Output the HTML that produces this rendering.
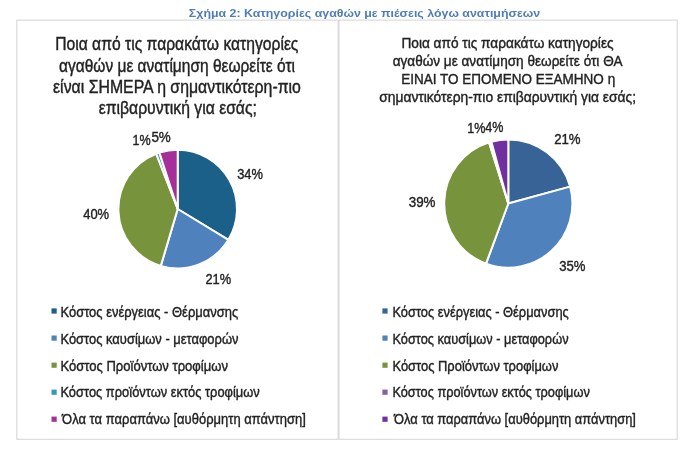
<!DOCTYPE html>
<html lang="el"><head><meta charset="utf-8"><title>Σχήμα 2</title>
<style>
html,body{margin:0;padding:0;background:#fff;}
body{filter:blur(0.4px);width:700px;height:459px;position:relative;overflow:hidden;font-family:"Liberation Sans", sans-serif;}
.t{position:absolute;white-space:nowrap;line-height:1;transform-origin:0 0;font-family:"Liberation Sans", sans-serif;-webkit-text-stroke:0.4px currentColor;}
svg{position:absolute;left:0;top:0;}
</style></head><body>
<svg width="700" height="459" viewBox="0 0 700 459">
<rect x="16.8" y="20.1" width="321.3" height="419.2" fill="#fff" stroke="#D8D8D8" stroke-width="1.1"/>
<rect x="339.0" y="20.1" width="338.2" height="419.2" fill="#fff" stroke="#D8D8D8" stroke-width="1.1"/>
<path d="M177.70,209.00 L177.70,149.70 A59.30,59.30 0 0 1 228.36,239.83 Z" fill="#1B6088" stroke="#fff" stroke-width="2.0" stroke-linejoin="round"/>
<path d="M177.70,209.00 L228.36,239.83 A59.30,59.30 0 0 1 160.80,265.84 Z" fill="#4F81BD" stroke="#fff" stroke-width="2.0" stroke-linejoin="round"/>
<path d="M177.70,209.00 L160.80,265.84 A59.30,59.30 0 0 1 156.22,153.73 Z" fill="#77933C" stroke="#fff" stroke-width="2.0" stroke-linejoin="round"/>
<path d="M177.70,209.00 L156.22,153.73 A59.30,59.30 0 0 1 159.38,152.60 Z" fill="#2F9CBA" stroke="#fff" stroke-width="2.0" stroke-linejoin="round"/>
<path d="M177.70,209.00 L159.38,152.60 A59.30,59.30 0 0 1 177.70,149.70 Z" fill="#A6309A" stroke="#fff" stroke-width="2.0" stroke-linejoin="round"/>
<path d="M508.30,203.50 L508.30,139.40 A64.10,64.10 0 0 1 570.13,186.59 Z" fill="#376397" stroke="#fff" stroke-width="2.0" stroke-linejoin="round"/>
<path d="M508.30,203.50 L570.13,186.59 A64.10,64.10 0 0 1 486.02,263.60 Z" fill="#4F81BD" stroke="#fff" stroke-width="2.0" stroke-linejoin="round"/>
<path d="M508.30,203.50 L486.02,263.60 A64.10,64.10 0 0 1 489.07,142.35 Z" fill="#77933C" stroke="#fff" stroke-width="2.0" stroke-linejoin="round"/>
<path d="M508.30,203.50 L489.07,142.35 A64.10,64.10 0 0 1 491.39,141.67 Z" fill="#F4F1F8" stroke="#fff" stroke-width="2.0" stroke-linejoin="round"/>
<path d="M508.30,203.50 L491.39,141.67 A64.10,64.10 0 0 1 508.30,139.40 Z" fill="#7030A0" stroke="#fff" stroke-width="2.0" stroke-linejoin="round"/>
<rect x="51.50" y="308.40" width="5.2" height="5.2" fill="#1B6088"/>
<rect x="51.50" y="335.50" width="5.2" height="5.2" fill="#4F81BD"/>
<rect x="51.50" y="362.60" width="5.2" height="5.2" fill="#77933C"/>
<rect x="51.50" y="389.60" width="5.2" height="5.2" fill="#2F9CBA"/>
<rect x="51.50" y="416.60" width="5.2" height="5.2" fill="#A6309A"/>
<rect x="382.40" y="308.40" width="5.2" height="5.2" fill="#376397"/>
<rect x="382.40" y="335.50" width="5.2" height="5.2" fill="#4F81BD"/>
<rect x="382.40" y="362.60" width="5.2" height="5.2" fill="#77933C"/>
<rect x="382.40" y="389.60" width="5.2" height="5.2" fill="#8064A2"/>
<rect x="382.40" y="416.60" width="5.2" height="5.2" fill="#7030A0"/>
</svg>
<span class="t" style="-webkit-text-stroke:0;left:188px;top:7.53px;font-size:10.6px;font-weight:bold;color:#4E7CB8;transform:translateX(0.86px) scaleX(1.1681)">Σχήμα 2: Κατηγορίες αγαθών με πιέσεις λόγω ανατιμήσεων</span>
<span class="t" style="left:55px;top:35.60px;font-size:17.6px;font-weight:normal;color:#222222;transform:translateX(0.21px) scaleX(0.8899)">Ποια από τις παρακάτω κατηγορίες</span>
<span class="t" style="left:59px;top:57.60px;font-size:17.6px;font-weight:normal;color:#222222;transform:translateX(0.02px) scaleX(0.8810)">αγαθών με ανατίμηση θεωρείτε ότι</span>
<span class="t" style="left:53px;top:78.60px;font-size:17.6px;font-weight:normal;color:#222222;transform:translateX(0.05px) scaleX(0.9006)">είναι ΣΗΜΕΡΑ η σημαντικότερη-πιο</span>
<span class="t" style="left:98px;top:99.60px;font-size:17.6px;font-weight:normal;color:#222222;transform:translateX(0.65px) scaleX(0.8944)">επιβαρυντική για εσάς;</span>
<span class="t" style="left:401px;top:34.80px;font-size:15.0px;font-weight:normal;color:#222222;transform:translateX(0.42px) scaleX(0.9104)">Ποια από τις παρακάτω κατηγορίες</span>
<span class="t" style="left:392px;top:52.80px;font-size:15.0px;font-weight:normal;color:#222222;transform:translateX(0.64px) scaleX(0.9052)">αγαθών με ανατίμηση θεωρείτε ότι ΘΑ</span>
<span class="t" style="left:401px;top:70.80px;font-size:15.0px;font-weight:normal;color:#222222;transform:translateX(0.28px) scaleX(0.9002)">ΕΙΝΑΙ ΤΟ ΕΠΟΜΕΝΟ ΕΞΑΜΗΝΟ η</span>
<span class="t" style="left:379px;top:88.80px;font-size:15.0px;font-weight:normal;color:#222222;transform:translateX(0.21px) scaleX(0.9215)">σημαντικότερη-πιο επιβαρυντική για εσάς;</span>
<span class="t" style="left:132px;top:131.63px;font-size:15.2px;font-weight:normal;color:#222222;transform:translateX(0.42px) scaleX(0.8261)">1%</span>
<span class="t" style="left:151px;top:128.63px;font-size:15.2px;font-weight:normal;color:#222222;transform:translateX(0.40px) scaleX(0.8824)">5%</span>
<span class="t" style="left:237px;top:165.63px;font-size:15.2px;font-weight:normal;color:#222222;transform:translateX(0.16px) scaleX(0.8473)">34%</span>
<span class="t" style="left:83px;top:205.63px;font-size:15.2px;font-weight:normal;color:#222222;transform:translateX(0.18px) scaleX(0.8521)">40%</span>
<span class="t" style="left:205px;top:270.63px;font-size:15.2px;font-weight:normal;color:#222222;transform:translateX(0.44px) scaleX(0.8454)">21%</span>
<span class="t" style="left:467px;top:119.63px;font-size:15.2px;font-weight:normal;color:#222222;transform:translateX(0.25px) scaleX(0.8282)">1%</span>
<span class="t" style="left:485px;top:118.63px;font-size:15.2px;font-weight:normal;color:#222222;transform:translateX(0.21px) scaleX(0.8257)">4%</span>
<span class="t" style="left:554px;top:130.63px;font-size:15.2px;font-weight:normal;color:#222222;transform:translateX(0.13px) scaleX(0.8694)">21%</span>
<span class="t" style="left:559px;top:257.63px;font-size:15.2px;font-weight:normal;color:#222222;transform:translateX(0.27px) scaleX(0.8644)">35%</span>
<span class="t" style="left:408px;top:193.63px;font-size:15.2px;font-weight:normal;color:#222222;transform:translateX(0.70px) scaleX(0.8814)">39%</span>
<span class="t" style="left:60px;top:303.63px;font-size:15.2px;font-weight:normal;color:#222222;transform:translateX(0.42px) scaleX(0.8542)">Κόστος ενέργειας - Θέρμανσης</span>
<span class="t" style="left:60px;top:330.63px;font-size:15.2px;font-weight:normal;color:#222222;transform:translateX(0.43px) scaleX(0.8523)">Κόστος καυσίμων - μεταφορών</span>
<span class="t" style="left:60px;top:357.63px;font-size:15.2px;font-weight:normal;color:#222222;transform:translateX(0.40px) scaleX(0.8592)">Κόστος Προϊόντων τροφίμων</span>
<span class="t" style="left:60px;top:383.63px;font-size:15.2px;font-weight:normal;color:#222222;transform:translateX(0.40px) scaleX(0.8491)">Κόστος προϊόντων εκτός τροφίμων</span>
<span class="t" style="left:62px;top:410.63px;font-size:15.2px;font-weight:normal;color:#222222;transform:translateX(0.11px) scaleX(0.8559)">Όλα τα παραπάνω [αυθόρμητη απάντηση]</span>
<span class="t" style="left:392px;top:303.63px;font-size:15.2px;font-weight:normal;color:#222222;transform:translateX(0.41px) scaleX(0.8473)">Κόστος ενέργειας - Θέρμανσης</span>
<span class="t" style="left:392px;top:330.63px;font-size:15.2px;font-weight:normal;color:#222222;transform:translateX(0.41px) scaleX(0.8430)">Κόστος καυσίμων - μεταφορών</span>
<span class="t" style="left:392px;top:357.63px;font-size:15.2px;font-weight:normal;color:#222222;transform:translateX(0.44px) scaleX(0.8513)">Κόστος Προϊόντων τροφίμων</span>
<span class="t" style="left:392px;top:383.63px;font-size:15.2px;font-weight:normal;color:#222222;transform:translateX(0.41px) scaleX(0.8405)">Κόστος προϊόντων εκτός τροφίμων</span>
<span class="t" style="left:394px;top:410.63px;font-size:15.2px;font-weight:normal;color:#222222;transform:translateX(0.11px) scaleX(0.8494)">Όλα τα παραπάνω [αυθόρμητη απάντηση]</span>
</body></html>
